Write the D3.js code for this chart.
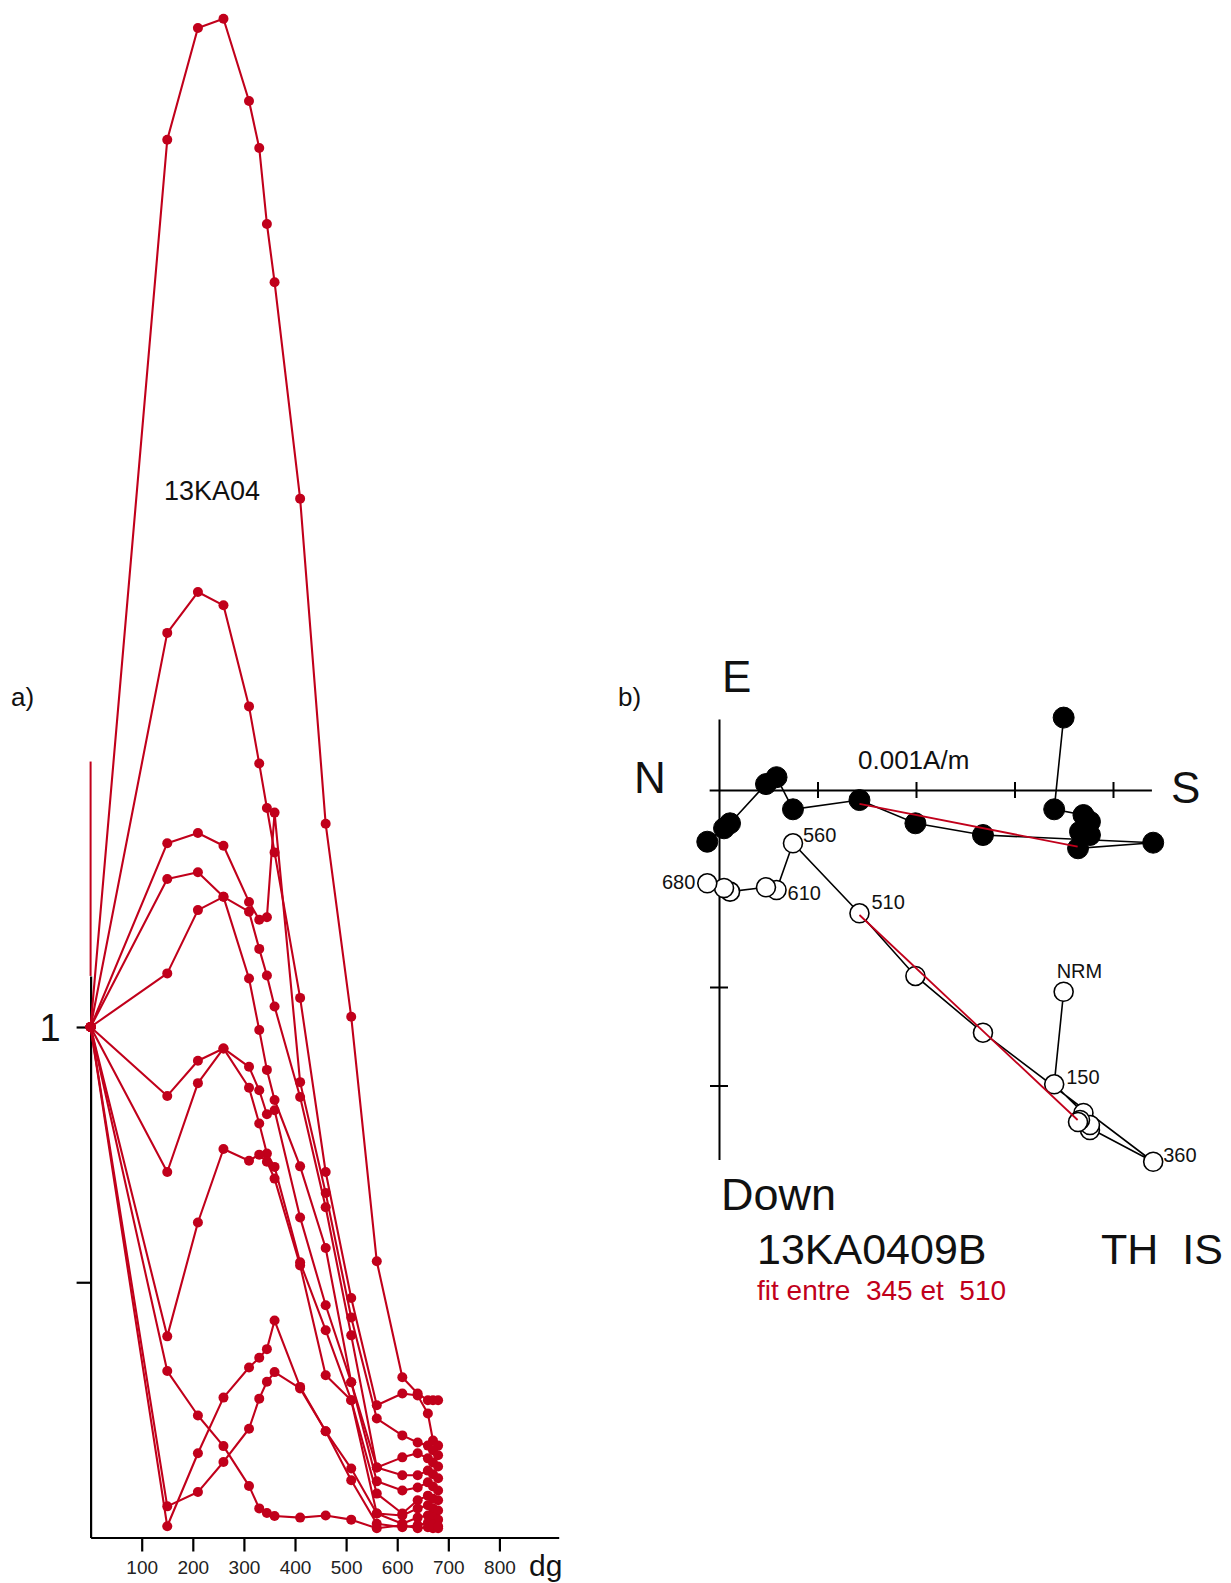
<!DOCTYPE html>
<html><head><meta charset="utf-8">
<script src="https://cdn.jsdelivr.net/npm/d3@7"></script>
<style>
body{margin:0;background:#fff}
svg{display:block}
text{font-family:"Liberation Sans",Arial,Helvetica,sans-serif}
</style>
</head><body>
<svg id="c" width="1231" height="1583"></svg>
<script>
// ---------- Panel a: normalized intensity vs temperature ----------
const temps = [0,150,210,260,310,330,345,360,410,460,510,560,610,640,660,670,680];
const serA = [1, 2.738, 2.957, 2.975, 2.814, 2.722, 2.573, 2.459, 2.035, 1.398, 1.020, 0.541, 0.314, 0.282, 0.269, 0.269, 0.269];
const serB = [1, 1.772, 1.852, 1.826, 1.628, 1.516, 1.429, 1.342, 1.057, 0.716, 0.469, 0.259, 0.282, 0.278, 0.243, 0.190, 0.180];
const serC = [1, 1.360, 1.380, 1.355, 1.245, 1.210, 1.215, 1.420, 0.892, 0.675, 0.431, 0.233, 0.200, 0.186, 0.180, 0.171, 0.161];
const serD = [1, 1.290, 1.303, 1.255, 1.226, 1.153, 1.101, 1.040, 0.863, 0.647, 0.396, 0.137, 0.157, 0.165, 0.155, 0.147, 0.139];
const serE = [1, 1.105, 1.229, 1.255, 1.095, 0.994, 0.916, 0.857, 0.727, 0.567, 0.304, 0.137, 0.122, 0.122, 0.131, 0.124, 0.116];
const serF = [1, 0.865, 0.934, 0.958, 0.922, 0.876, 0.829, 0.837, 0.627, 0.455, 0.304, 0.110, 0.092, 0.098, 0.108, 0.100, 0.092];
const serG = [1, 0.716, 0.890, 0.958, 0.881, 0.811, 0.752, 0.726, 0.539, 0.406, 0.269, 0.086, 0.047, 0.073, 0.082, 0.076, 0.073];
const serH = [1, 0.394, 0.617, 0.761, 0.738, 0.750, 0.736, 0.703, 0.533, 0.318, 0.269, 0.047, 0.043, 0.057, 0.063, 0.057, 0.053];
const serI = [1, 0.326, 0.239, 0.179, 0.101, 0.057, 0.048, 0.042, 0.039, 0.043, 0.035, 0.018, 0.024, 0.018, 0.020, 0.018, 0.018];
const serJ = [1, 0.022, 0.165, 0.274, 0.333, 0.352, 0.369, 0.425, 0.295, 0.208, 0.135, 0.047, 0.027, 0.039, 0.043, 0.039, 0.035];
const serK = [1, 0.061, 0.089, 0.148, 0.213, 0.272, 0.305, 0.324, 0.292, 0.208, 0.112, 0.027, 0.020, 0.024, 0.029, 0.025, 0.022];
const xTicks = [100,200,300,400,500,600,700,800];
const yTicks = [0.5, 1];
const yTickLabels = ["", "1"];
const yAxisTop = 1.1;          // black y axis from 0 up to this value
const redStub = [1.1, 1.52];   // red vertical segment above it
const panelATitle = "13KA04";

// ---------- Panel b: Zijderveld diagram ----------
const zSteps = ["NRM","150","210","260","310","330","345","360","410","460","510","560","610","640","660","670","680"];
const zNS   = [3.499, 3.403, 3.700, 3.766, 3.766, 3.665, 3.645, 4.408, 2.680, 1.994, 1.426, 0.751, 0.584, 0.477, 0.112, 0.051, -0.119];
const zE    = [0.735, -0.196, -0.254, -0.322, -0.457, -0.423, -0.592, -0.535, -0.457, -0.338, -0.102, -0.196, 0.130, 0.060, -0.338, -0.389, -0.525];
const zDown = [2.048, 2.988, 3.279, 3.452, 3.401, 3.350, 3.371, 3.774, 2.464, 1.888, 1.252, 0.541, 1.015, 0.988, 1.032, 0.995, 0.947];
const fitNS = [1.426, 3.641];
const fitE = [-0.142, -0.575];
const fitDown = [1.269, 3.350];
const labelledSteps = ["NRM","150","360","510","560","610","680"];
const zTicksH = [1,2,3,4];
const zTicksV = [2,3];
const sampleName = "13KA0409B";
const methodText = "TH  IS";
const fitText = "fit entre  345 et  510";
const scaleText = "0.001A/m";

const red = "#c1001b";
const svg = d3.select("#c");

// ===== Panel a =====
const x = d3.scaleLinear().domain([0, 916]).range([90.6, 558.7]);
const y = d3.scaleLinear().domain([0, 1]).range([1537.5, 1027]);
const gA = svg.append("g");

const xAxis = d3.axisBottom(x).tickValues(xTicks).tickSize(14).tickSizeOuter(0).tickFormat(d3.format("d"));
const gx = gA.append("g").attr("transform", `translate(0,${y(0)})`).call(xAxis);
gx.select(".domain").attr("stroke", "#000").attr("stroke-width", 2.2);
gx.selectAll(".tick line").attr("stroke", "#000").attr("stroke-width", 2.2);
gx.selectAll(".tick text").attr("font-size", 19).attr("fill", "#222").attr("y", 23).attr("dy", "0.71em")
  .style("font-family", '"Liberation Sans",Arial,sans-serif');
gA.append("text").attr("x", 529).attr("y", 1576).attr("font-size", 30).attr("fill", "#111").text("dg");

const yAx = d3.scaleLinear().domain([0, yAxisTop]).range([y(0), y(yAxisTop)]);
const yAxis = d3.axisLeft(yAx).tickValues(yTicks).tickSize(14).tickSizeOuter(0).tickFormat((d, i) => yTickLabels[i]);
const gy = gA.append("g").attr("transform", `translate(${x(0)},0)`).call(yAxis);
gy.select(".domain").attr("stroke", "#000").attr("stroke-width", 2.2);
gy.selectAll(".tick line").attr("stroke", "#000").attr("stroke-width", 2.2);
gy.selectAll(".tick text").attr("font-size", 38).attr("fill", "#111").attr("x", -30).attr("dy", "0.35em")
  .style("font-family", '"Liberation Sans",Arial,sans-serif');

gA.append("line").attr("x1", x(0)).attr("x2", x(0))
  .attr("y1", y(redStub[0])).attr("y2", y(redStub[1]))
  .attr("stroke", red).attr("stroke-width", 2);

const allSeries = [serA, serB, serC, serD, serE, serF, serG, serH, serI, serJ, serK];
const lineA = d3.line().x((d, i) => x(temps[i])).y(d => y(d));
gA.append("g").selectAll("path").data(allSeries).join("path")
  .attr("d", lineA).attr("fill", "none").attr("stroke", red).attr("stroke-width", 2.1).attr("stroke-linejoin", "round");
const dotsG = gA.append("g");
allSeries.forEach(s => {
  dotsG.append("g").selectAll("circle").data(s).join("circle")
    .attr("cx", (d, i) => x(temps[i])).attr("cy", d => y(d)).attr("r", 5).attr("fill", red);
});

gA.append("text").attr("x", 164).attr("y", 500).attr("font-size", 27).attr("fill", "#111").text(panelATitle);
gA.append("text").attr("x", 11).attr("y", 706).attr("font-size", 26).attr("fill", "#111").text("a)");

// ===== Panel b =====
const zx = d3.scaleLinear().domain([0, 1]).range([719, 817.5]);
const zy = d3.scaleLinear().domain([0, 1]).range([790, 888.5]);
const gB = svg.append("g");

const zxAx = zx.copy().domain([-0.1, 4.39]).range([zx(-0.1), zx(4.39)]);
const gzx = gB.append("g").attr("transform", `translate(0,${zy(0)})`)
  .call(d3.axisBottom(zxAx).tickValues(zTicksH).tickSize(8).tickSizeOuter(0).tickFormat(""));
gzx.select(".domain").attr("stroke", "#000").attr("stroke-width", 2);
gzx.selectAll(".tick line").attr("stroke", "#000").attr("stroke-width", 2).attr("y1", -8);

const zyAx = zy.copy().domain([-0.72, 3.75]).range([zy(-0.72), zy(3.75)]);
const gzy = gB.append("g").attr("transform", `translate(${zx(0)},0)`)
  .call(d3.axisLeft(zyAx).tickValues(zTicksV).tickSize(9).tickSizeOuter(0).tickFormat(""));
gzy.select(".domain").attr("stroke", "#000").attr("stroke-width", 2);
gzy.selectAll(".tick line").attr("stroke", "#000").attr("stroke-width", 2).attr("x1", 9);

const idx = d3.range(zSteps.length);
const hLine = d3.line().x(i => zx(zNS[i])).y(i => zy(-zE[i]));
const vLine = d3.line().x(i => zx(zNS[i])).y(i => zy(zDown[i]));
gB.append("path").attr("d", hLine(idx)).attr("fill", "none").attr("stroke", "#000").attr("stroke-width", 1.6);
gB.append("path").attr("d", vLine(idx)).attr("fill", "none").attr("stroke", "#000").attr("stroke-width", 1.6);

gB.append("g").selectAll("circle").data(idx).join("circle")
  .attr("cx", i => zx(zNS[i])).attr("cy", i => zy(-zE[i])).attr("r", 10.5)
  .attr("fill", "#000").attr("stroke", "#000").attr("stroke-width", 1);
gB.append("g").selectAll("circle").data(idx).join("circle")
  .attr("cx", i => zx(zNS[i])).attr("cy", i => zy(zDown[i])).attr("r", 9.5)
  .attr("fill", "#fff").attr("stroke", "#000").attr("stroke-width", 1.6);

gB.append("line").attr("x1", zx(fitNS[0])).attr("x2", zx(fitNS[1]))
  .attr("y1", zy(-fitE[0])).attr("y2", zy(-fitE[1])).attr("stroke", red).attr("stroke-width", 1.8);
gB.append("line").attr("x1", zx(fitNS[0])).attr("x2", zx(fitNS[1]))
  .attr("y1", zy(fitDown[0])).attr("y2", zy(fitDown[1])).attr("stroke", red).attr("stroke-width", 1.8);

const labelPos = {
  "NRM": {dx: -7, dy: -14, anchor: "start"},
  "150": {dx: 12, dy: 0, anchor: "start"},
  "360": {dx: 10, dy: 0, anchor: "start"},
  "510": {dx: 12, dy: -4, anchor: "start"},
  "560": {dx: 10, dy: -1, anchor: "start"},
  "610": {dx: 11, dy: 10, anchor: "start"},
  "680": {dx: -12, dy: 6, anchor: "end"}
};
gB.append("g").selectAll("text").data(labelledSteps).join("text")
  .attr("x", s => zx(zNS[zSteps.indexOf(s)]) + labelPos[s].dx)
  .attr("y", s => zy(zDown[zSteps.indexOf(s)]) + labelPos[s].dy)
  .attr("text-anchor", s => labelPos[s].anchor)
  .attr("font-size", 20).attr("fill", "#111").text(s => s);

gB.append("text").attr("x", 618).attr("y", 706).attr("font-size", 26).attr("fill", "#111").text("b)");
gB.append("text").attr("x", 722).attr("y", 692).attr("font-size", 44).attr("fill", "#111").text("E");
gB.append("text").attr("x", 634).attr("y", 793).attr("font-size", 44).attr("fill", "#111").text("N");
gB.append("text").attr("x", 1171).attr("y", 803).attr("font-size", 44).attr("fill", "#111").text("S");
gB.append("text").attr("x", 858).attr("y", 769).attr("font-size", 26).attr("fill", "#111").text(scaleText);
gB.append("text").attr("x", 721).attr("y", 1210).attr("font-size", 45).attr("fill", "#111").text("Down");
gB.append("text").attr("x", 757).attr("y", 1264).attr("font-size", 43).attr("fill", "#111").text(sampleName);
gB.append("text").attr("x", 1101).attr("y", 1264).attr("font-size", 43).attr("fill", "#111")
  .style("white-space", "pre").text(methodText);
gB.append("text").attr("x", 757).attr("y", 1300).attr("font-size", 28).attr("fill", red)
  .style("white-space", "pre").text(fitText);
</script>
</body></html>
